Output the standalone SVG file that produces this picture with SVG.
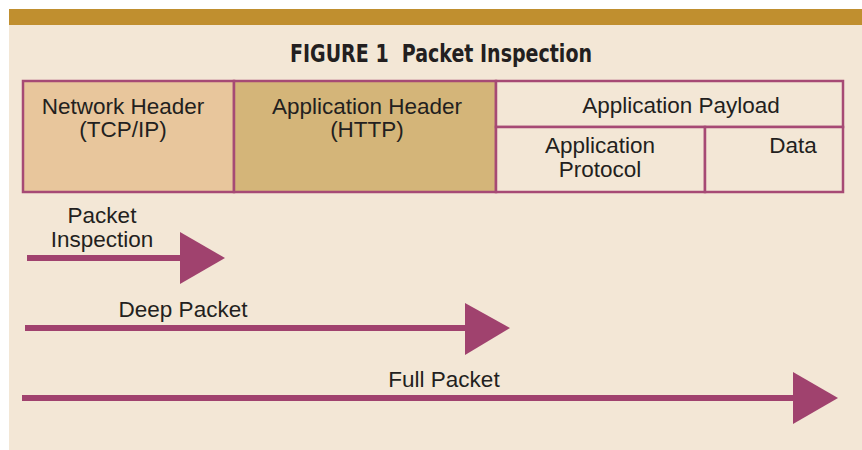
<svg xmlns="http://www.w3.org/2000/svg" width="862" height="450" viewBox="0 0 862 450">
  <defs>
    <style>
      .lbl { font-family: "Liberation Sans", Arial, sans-serif; font-size: 22.5px; fill: #231f20; text-anchor: middle; }
      .title { font-family: "DejaVu Sans Condensed", "DejaVu Sans", sans-serif; font-weight: bold; font-stretch: condensed; font-size: 24px; fill: #231f20; text-anchor: middle; white-space: pre; }
      .cell { stroke: #a64a75; stroke-width: 2.5; }
      .shaft { stroke: #a0426e; stroke-width: 6; fill: none; }
      .head { fill: #a0426e; }
    </style>
  </defs>
  <rect x="0" y="0" width="862" height="450" fill="#ffffff"/>
  <rect x="9" y="9" width="853" height="16" fill="#c08f2f"/>
  <rect x="9" y="25" width="853" height="425" fill="#f3e7d6"/>
  <text class="title" x="441" y="62" textLength="302" lengthAdjust="spacingAndGlyphs" xml:space="preserve">FIGURE 1  Packet Inspection</text>

  <g id="network-header">
    <rect class="cell" x="23" y="81" width="211" height="111" fill="#e8c69c"/>
    <text class="lbl" x="123" y="114">Network Header</text>
    <text class="lbl" x="123" y="137">(TCP/IP)</text>
  </g>
  <g id="application-header">
    <rect class="cell" x="234" y="81" width="262" height="111" fill="#d4b579"/>
    <text class="lbl" x="367" y="114">Application Header</text>
    <text class="lbl" x="367" y="137">(HTTP)</text>
  </g>
  <g id="application-payload">
    <rect class="cell" x="496" y="81" width="347" height="46" fill="#f3e7d6"/>
    <text class="lbl" x="681" y="113">Application Payload</text>
  </g>
  <g id="application-protocol">
    <rect class="cell" x="496" y="127" width="209" height="65" fill="#f3e7d6"/>
    <text class="lbl" x="600" y="153">Application</text>
    <text class="lbl" x="600" y="177">Protocol</text>
  </g>
  <g id="data">
    <rect class="cell" x="705" y="127" width="138" height="65" fill="#f3e7d6"/>
    <text class="lbl" x="793" y="153">Data</text>
  </g>

  <g id="connectors">
    <g id="packet-inspection">
      <line class="shaft" x1="27" y1="258" x2="182" y2="258"/>
      <polygon class="head" points="180,232 225,258 180,284"/>
      <text class="lbl" x="102" y="223">Packet</text>
      <text class="lbl" x="102" y="247">Inspection</text>
    </g>
    <g id="deep-packet">
      <line class="shaft" x1="25" y1="328" x2="467" y2="328"/>
      <polygon class="head" points="465,303 510,328 465,355"/>
      <text class="lbl" x="183" y="317">Deep Packet</text>
    </g>
    <g id="full-packet">
      <line class="shaft" x1="22" y1="398" x2="795" y2="398"/>
      <polygon class="head" points="793,372 838,398 793,424"/>
      <text class="lbl" x="444" y="387">Full Packet</text>
    </g>
  </g>
</svg>
